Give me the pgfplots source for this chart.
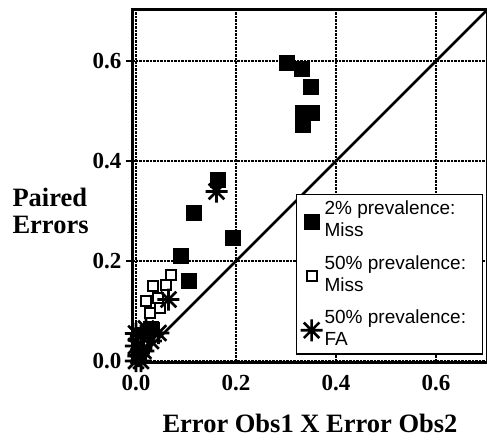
\documentclass[border=0pt]{standalone}
\usepackage{fontspec}
\setmainfont{Liberation Serif}
\newfontfamily\legfont{Liberation Sans}
\usepackage{pgfplots}
\pgfplotsset{compat=1.18}

% eight-armed asterisk
\pgfdeclareplotmark{ast8}{%
  \pgfpathmoveto{\pgfqpoint{0pt}{\pgfplotmarksize}}%
  \pgfpathlineto{\pgfqpoint{0pt}{-\pgfplotmarksize}}%
  \pgfpathmoveto{\pgfqpoint{\pgfplotmarksize}{0pt}}%
  \pgfpathlineto{\pgfqpoint{-\pgfplotmarksize}{0pt}}%
  \pgfpathmoveto{\pgfqpointpolar{45}{\pgfplotmarksize}}%
  \pgfpathlineto{\pgfqpointpolar{225}{\pgfplotmarksize}}%
  \pgfpathmoveto{\pgfqpointpolar{135}{\pgfplotmarksize}}%
  \pgfpathlineto{\pgfqpointpolar{315}{\pgfplotmarksize}}%
  \pgfusepathqstroke}

% legend line of fixed width
\newcommand{\legline}[1]{\makebox[152pt][l]{#1}}

\begin{document}
\begin{tikzpicture}
\begin{axis}[
  width=354pt, height=352pt, scale only axis,
  xmin=-0.006, xmax=0.702,
  ymin=-0.002, ymax=0.702,
  xtick={0,0.2,0.4,0.6}, ytick={0,0.2,0.4,0.6},
  /pgf/number format/assume math mode=true,
  /pgf/number format/fixed, /pgf/number format/fixed zerofill,
  /pgf/number format/precision=1,
  ticklabel style={font=\fontsize{23}{24}\selectfont\bfseries},
  xticklabel style={yshift=-3pt},
  yticklabel style={xshift=-1pt},
  tick align=outside, major tick length=7pt,
  xtick style={draw=none},
  ytick style={line width=1.2pt, black},
  grid=major,
  major grid style={densely dotted, line width=1.6pt, black},
  axis line style={line width=3pt},
  clip mode=individual,
  xlabel={Error Obs1 X Error Obs2},
  xlabel style={font=\fontsize{26.5}{27}\selectfont\bfseries, yshift=-16pt},
  ylabel={Paired\\Errors},
  ylabel style={font=\fontsize{26.5}{27}\selectfont\bfseries, rotate=-90,
    align=left, at={(axis description cs:0,0.43)}, anchor=west, xshift=-124pt},
  legend style={at={(axis cs:0.32,0.335)}, anchor=north west,
    draw=black, line width=1.2pt, fill=white,
    font=\legfont\fontsize{19}{22}\selectfont,
    cells={anchor=west, align=left},
    row sep=13pt, inner xsep=4pt, inner ysep=5pt},
  legend image post style={yshift=-2pt},
  legend cell align=left,
]
% identity line
\addplot[line width=2.8pt, black, forget plot] coordinates {(0,0) (0.72,0.72)};

% 2% prevalence: Miss
\addplot[only marks, mark=square*, mark size=7.5pt, black, mark options={fill=black, line width=0.5pt}]
coordinates {
 (0.301,0.596) (0.331,0.585) (0.350,0.549) (0.352,0.497) (0.333,0.497)
 (0.333,0.472) (0.163,0.362) (0.116,0.296) (0.193,0.246) (0.089,0.211)
 (0.105,0.161) (0.030,0.065) (0.020,0.050) (0.012,0.030) (0.005,0.015)
};
\addlegendentry{\legline{2\% prevalence:}\\Miss}

% 50% prevalence: Miss
\addplot[only marks, mark=square*, mark size=5pt, black, mark options={fill=white, line width=2pt}]
coordinates {
 (0.070,0.173) (0.061,0.153) (0.035,0.151) (0.021,0.121) (0.045,0.127)
 (0.048,0.106) (0.028,0.096) (0.015,0.038) (0.010,0.020) (0.005,0.008)
};
\addlegendentry{\legline{50\% prevalence:}\\Miss}

% 50% prevalence: FA
\addplot[only marks, mark=ast8, mark size=11pt, black, mark options={line width=2.6pt}]
coordinates {
 (0.161,0.339) (0.065,0.123) (0.045,0.056) (0.020,0.065) (0.010,0.050)
 (0.000,0.030) (0.005,0.010) (0.000,0.000) (0.015,0.020) (0.030,0.040)
 (0.000,0.055) (0.010,0.000)
};
\addlegendentry{\legline{50\% prevalence:}\\FA}
\end{axis}
\pgfresetboundingbox
\useasboundingbox ([xshift=-133pt,yshift=-83pt]current axis.south west)
  rectangle ([yshift=10pt]current axis.north east);
\end{tikzpicture}
\end{document}
